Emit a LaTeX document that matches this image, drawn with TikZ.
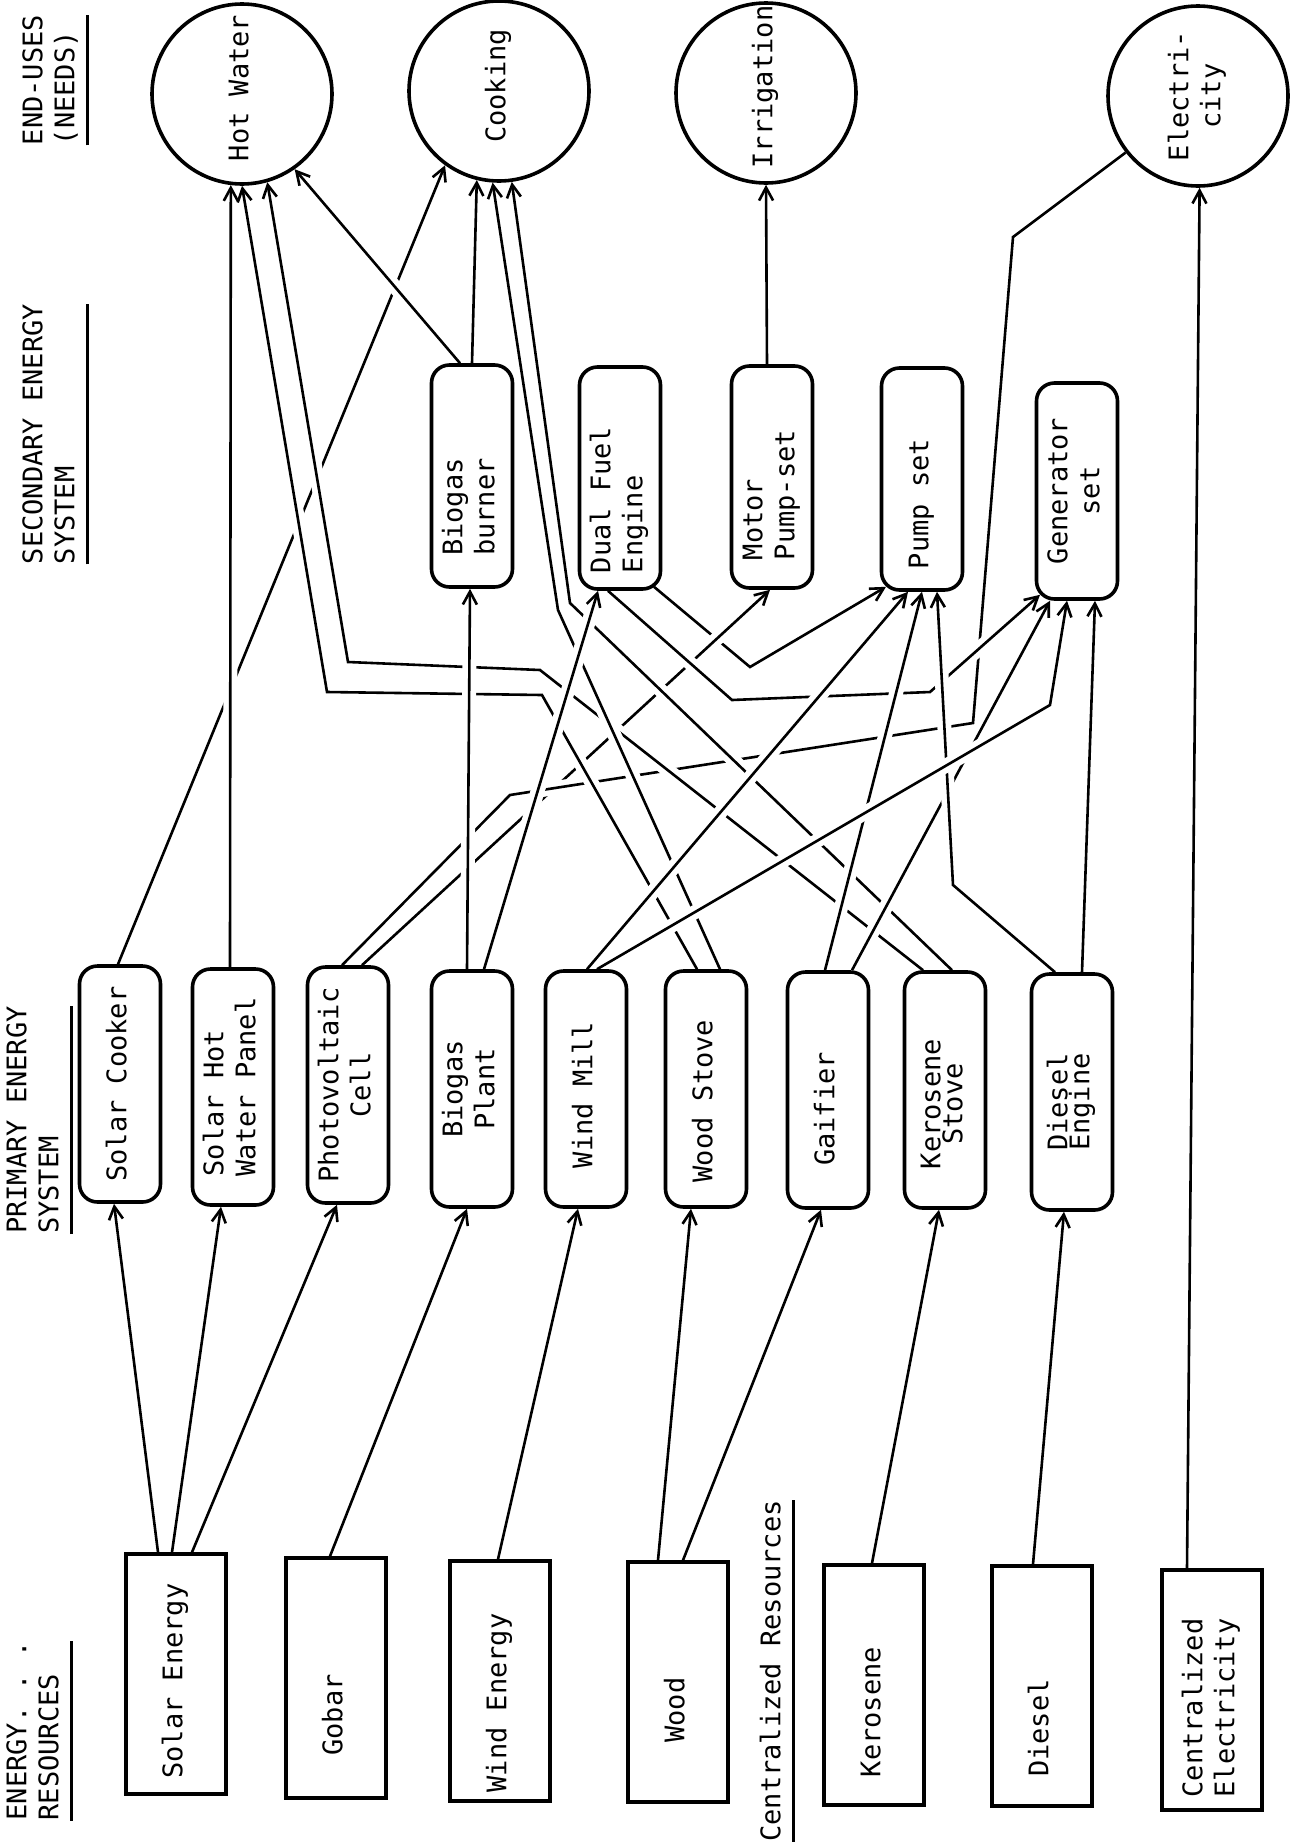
\documentclass[tikz,border=0pt]{standalone}
\usepackage{fontspec}
\setmonofont{DejaVu Sans Mono}
\usepackage{graphicx}
\usepackage{tikz}
\usetikzlibrary{positioning,arrows.meta,calc}

% label read from bottom to top, #1 = column alignment
\newcommand{\uptext}[2][c]{\rotatebox{90}{\begin{tabular}{@{}#1@{}}#2\end{tabular}}}
% same, pushed down the box by half of #2
\newcommand{\lowtext}[3][c]{\rotatebox{90}{\begin{tabular}{@{}#1@{}}#3\end{tabular}\hspace*{#2}}}

\begin{document}
\begin{tikzpicture}[x=0.5pt,y=-0.5pt,
  every node/.style={font=\ttfamily\fontsize{13.5}{16}\selectfont,inner sep=0pt},
  resbox/.style={draw,line width=1.8pt,minimum width=50pt,minimum height=120pt},
  primbox/.style={draw,line width=1.8pt,rounded corners=9pt,minimum width=40.5pt,minimum height=118pt},
  secbox/.style={primbox,minimum height=111pt},
  needcirc/.style={draw,circle,line width=1.8pt,minimum size=90pt},
  uline/.style={line width=1.6pt},
  flow/.style={line width=1.3pt,-{Straight Barb[length=6.5pt,width=7pt]},
    preaction={draw=white,line width=7pt,-,shorten <=12pt,shorten >=12pt}},
  link/.style={flow,-}
]
\useasboundingbox (0,0) rectangle (1303,1842);

% column headings
\node (hdend) at (52,80) {\uptext[l]{END-USES\\(NEEDS)}};
\node (hdsec) at (52,434) {\uptext[l]{SECONDARY ENERGY\\SYSTEM}};
\node (hdpri) at (36,1120) {\uptext[l]{PRIMARY ENERGY\\SYSTEM}};
\node (hdres) at (36,1731) {\uptext[l]{ENERGY. . .\\RESOURCES}};
\node (hdcen) at (774,1671) {\uptext{Centralized Resources}};
\foreach \hd in {hdend,hdsec,hdpri,hdres,hdcen} {
  \draw[uline] ([xshift=1.5pt]\hd.south east) -- ([xshift=1.5pt]\hd.north east);
}

% END-USES (needs)
\node[needcirc] (hw) at (242,94) {\lowtext{-6pt}{Hot Water}};
\node[needcirc] (ck) at (499,91) {\lowtext{-5pt}{Cooking}};
\node[needcirc] (ir) at (766,93) {\lowtext{-6pt}{Irrigation}};
\node[needcirc] (el) at (1198,96) {\uptext{Electri-\\city}};

% SECONDARY energy system
\node[secbox] (bb) at (472,476) {\lowtext[l]{31pt}{Biogas\\burner}};
\node[secbox] (df) at (620,478) {\lowtext[l]{22pt}{Dual Fuel\\Engine}};
\node[secbox] (mp) at (772,477) {\lowtext[l]{18pt}{Motor\\Pump-set}};
\node[secbox] (ps) at (922,479) {\lowtext{25pt}{Pump set}};
\node[secbox,minimum height=108pt] (gs) at (1077,491) {\uptext{Generator\\set}};

% PRIMARY energy system
\node[primbox] (sc) at (120,1084) {\uptext{Solar Cooker}};
\node[primbox] (shw) at (233,1087) {\uptext[l]{Solar Hot\\Water Panel}};
\node[primbox] (pv) at (348,1085) {\uptext{Photovoltaic\\Cell}};
\node[primbox] (bp) at (472,1089) {\uptext{Biogas\\Plant}};
\node[primbox] (wm) at (586,1089) {\lowtext{6pt}{Wind Mill}};
\node[primbox] (ws) at (706,1089) {\lowtext{12pt}{Wood Stove}};
\node[primbox] (ga) at (828,1090) {\lowtext{19pt}{Gaifier}};
\node[primbox] (ks) at (945,1090) {\lowtext{14pt}{Kerosene\\[-5pt]Stove}};
\node[primbox] (de) at (1072,1092) {\lowtext[r]{10pt}{Diesel\\[-5pt]Engine}};

% ENERGY resources
\node[resbox] (se) at (176,1674) {\lowtext{7pt}{Solar Energy}};
\node[resbox] (gb) at (336,1678) {\lowtext{37pt}{Gobar}};
\node[resbox] (we) at (500,1681) {\lowtext{22pt}{Wind Energy}};
\node[resbox] (wd) at (678,1682) {\lowtext{28pt}{Wood}};
\node[resbox] (ke) at (874,1685) {\lowtext{27pt}{Kerosene}};
\node[resbox] (di) at (1042,1686) {\lowtext{42pt}{Diesel}};
\node[resbox] (ce) at (1212,1690) {\lowtext[l]{18pt}{Centralized\\Electricity}};

% primary -> secondary / end-uses (earlier lines get broken by later ones)
\draw[flow] ($(df.south)+(34,-4)$) -- (750,667) -- ($(ps.south)+(-36,-5)$);
\draw[flow] ($(pv.north)+(14,0)$) -- ($(mp.south)+(-2,0)$);
\draw[link] ($(pv.north)+(-6,0)$) -- (510,795) -- (973,723) -- (1013,237) -- (el.-142);
\draw[flow] ($(sc.north)+(-2,0)$) -- (ck.-126);
\draw[flow] ($(ks.north)+(-22,0)$) -- (540,670) -- (348,662) -- (hw.-74);
\draw[flow] ($(ks.north)+(7,0)$) -- (570,603) -- (ck.-82);
\draw[flow] ($(ws.north)+(-9,0)$) -- (542,695) -- (327,692) -- (hw.-90);
\draw[flow] ($(ws.north)+(14,0)$) -- (558,610) -- (ck.-94);
\draw[flow] ($(df.south)+(-12,0)$) -- (732,700) -- (930,692) -- ($(gs.south)+(-37,-6)$);
\draw[flow] ($(ga.north)+(-3,0)$) -- (ps.south);
\draw[flow] ($(ga.north)+(24,0)$) -- ($(gs.south)+(-27,0)$);
\draw[flow] ($(de.north)+(-17,0)$) -- (953,885) -- ($(ps.south)+(15,0)$);
\draw[flow] ($(de.north)+(10,0)$) -- ($(gs.south)+(18,0)$);
\draw[flow] ($(bp.north)+(-5,0)$) -- ($(bb.south)+(-2,0)$);
\draw[flow] ($(bp.north)+(12,0)$) -- ($(df.south)+(-22,0)$);
\draw[flow] ($(bb.north)+(-12,0)$) -- (hw.-55);
\draw[flow] (bb.north) -- (ck.-104);
\draw[flow] ($(wm.north)+(1,0)$) -- ($(ps.south)+(-14,0)$);
\draw[flow] ($(wm.north)+(11,0)$) -- (1050,705) -- ($(gs.south)+(-10,0)$);
\draw[flow] ($(shw.north)+(-3,0)$) -- (hw.-97);
\draw[flow] ($(mp.north)+(-5,0)$) -- (ir.south);

% resources -> primary systems
\foreach \src/\dst/\xs/\xd in {se/sc/-18/-6, se/shw/-4/-12, se/pv/16/-11, gb/bp/-6/-5,
    we/wm/-2/-8, wd/ws/-20/-15, wd/ga/5/-7, ke/ks/-2/-6, di/de/-9/-8} {
  \draw[flow] ($(\src.north)+(\xs,0)$) -- ($(\dst.south)+(\xd,0)$);
}
\draw[flow] ($(ce.north)+(-25,0)$) -- (el.-89);

\end{tikzpicture}
\end{document}
